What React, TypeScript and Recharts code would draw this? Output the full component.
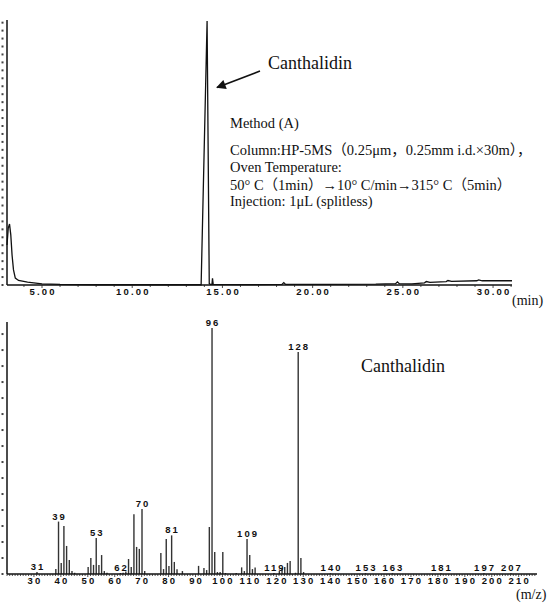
import React from 'react';
import { LineChart, Line, XAxis, YAxis, BarChart, Bar, LabelList } from 'recharts';

// total ion chromatogram (min, % of full scale)
const timeMin = [
  3.06, 3.13, 3.2, 3.27, 3.34, 3.42, 3.52, 3.7, 4.2, 5.0, 6.0, 8.0, 13.0, 13.82,
  14.15, 14.27, 14.34, 14.42, 14.45, 14.49, 16.0, 18.3, 18.4, 18.5, 21.0, 23.5,
  24.6, 24.7, 24.8, 25.5, 26.2, 26.3, 26.5, 27.4, 27.5, 27.7, 29.1, 29.2, 29.4, 31.05,
];
const signal = [
  15.1, 21.5, 23.0, 18.9, 11.3, 5.7, 2.6, 1.7, 1.1, 0.45, 0.2, 0.1, 0.1, 0.1,
  99.6, 0.5, 0.2, 0.2, 2.5, 0.2, 0.15, 0.2, 0.9, 0.2, 0.25, 0.3,
  0.5, 1.2, 0.5, 0.4, 0.8, 1.3, 1.0, 1.3, 1.7, 1.4, 1.6, 1.9, 1.6, 1.6,
];
const timeTickLabels = [5, 10, 15, 20, 25, 30];
const topYTicks = [0, 3, 6, 9, 12, 15, 18, 21, 24, 27, 30, 33, 36, 39, 42, 45, 48, 51, 54, 57, 60, 63, 66, 69, 72, 75, 78, 81, 84, 87, 90, 93, 96, 99];

// mass spectrum (m/z, relative abundance %)
const mzValues = [
  31, 38, 39, 40, 41, 42, 43, 44, 45, 50, 51, 52, 53, 54, 55, 56, 57, 62, 63, 64,
  65, 66, 67, 68, 69, 70, 71, 77, 78, 79, 80, 81, 82, 83, 85, 91, 93, 94, 95, 96,
  97, 98, 99, 100, 101, 105, 107, 108, 109, 110, 111, 112, 119, 121, 122, 123, 124,
  125, 127, 128, 129, 130, 140, 153, 163, 181, 197, 207,
];
const abundance = [
  0.8, 2.0, 21.3, 4.5, 19.5, 11.4, 5.7, 1.2, 0.5, 2.8, 6.5, 3.7, 14.6, 3.7, 7.7, 1.2, 0.5, 0.4, 0.5, 1.0,
  6.1, 2.8, 24.3, 11.0, 10.2, 26.4, 1.2, 8.5, 2.0, 14.2, 3.3, 15.7, 4.9, 1.9, 1.2, 3.3, 2.4, 1.6, 19.1, 100,
  8.9, 0.8, 0.8, 8.9, 0.4, 0.4, 2.7, 1.2, 14.2, 7.7, 2.0, 2.6, 0.4, 1.2, 2.4, 2.8, 4.5,
  5.3, 0.5, 90.2, 6.5, 0.8, 0.3, 0.3, 0.3, 0.3, 0.3, 0.3,
];
const labelledMz = [31, 39, 53, 62, 70, 81, 96, 109, 119, 128, 140, 153, 163, 181, 197, 207];
const mzTickLabels = [30, 40, 50, 60, 70, 80, 90, 100, 110, 120, 130, 140, 150, 160, 170, 180, 190, 200, 210];
const bottomYTicks = [0, 6.5, 13, 19.5, 26, 32.5, 39, 45.5, 52, 58.5, 65, 71.5, 78, 84.5, 91, 97.5];

const chromData = timeMin.map((t, i) => ({ t, v: signal[i] }));
const msData = mzValues.map((mz, i) => ({
  mz,
  v: abundance[i],
  label: labelledMz.includes(mz) ? String(mz) : undefined,
}));

const topMinor = Array.from({ length: 28 }, (_, i) => 4 + i);
const mzMinor = Array.from({ length: 197 }, (_, i) => 20 + i);

const sans = "'Liberation Sans', Arial, sans-serif";
const serif = "'Liberation Serif', 'Times New Roman', 'Noto Sans CJK JP', serif";

const dotTick = (props: any) => (
  <rect x={props.x - 5.5} y={props.y - 1} width={2} height={2} fill="#444" />
);

const makeXTick = (labels: number[], fmt: (v: number) => string, spacing: number) => (props: any) => {
  const { x, y, payload } = props;
  const major = labels.includes(payload.value);
  return (
    <g>
      <line x1={x} x2={x} y1={y} y2={y + (major ? 3 : 2)} stroke="#222" strokeWidth={0.8} />
      {major && (
        <text
          x={x + spacing / 2}
          y={y + 9.5}
          textAnchor="middle"
          fill="#111"
          fontFamily={sans}
          fontWeight="bold"
          fontSize={9.5}
          letterSpacing={spacing}
        >
          {fmt(payload.value)}
        </text>
      )}
    </g>
  );
};

const peakLabel = (props: any) => {
  const { x, y, width, value } = props;
  if (value === undefined || value === null) return null;
  return (
    <text
      x={x + width / 2 + 1}
      y={y - 2}
      textAnchor="middle"
      fill="#111"
      fontFamily={sans}
      fontWeight="bold"
      fontSize={9.5}
      letterSpacing={2}
    >
      {value}
    </text>
  );
};

export default function App() {
  return (
    <div style={{ position: 'absolute', left: 0, top: 0, width: 548, height: 615, background: '#fff' }}>
      <div style={{ position: 'absolute', left: 0, top: 0 }}>
        <LineChart width={548} height={310} data={chromData} margin={{ top: 20, right: 36, bottom: 0, left: 0 }}>
          <XAxis
            type="number"
            dataKey="t"
            domain={[3.06, 31.05]}
            ticks={topMinor}
            interval={0}
            height={25}
            tickSize={0}
            tickMargin={0}
            axisLine={{ stroke: '#111', strokeWidth: 1.5 }}
            tick={makeXTick(timeTickLabels, (v) => v.toFixed(2), 2.2)}
          />
          <YAxis
            type="number"
            domain={[0, 100]}
            ticks={topYTicks}
            interval={0}
            width={7}
            tickSize={0}
            tickMargin={0}
            axisLine={{ stroke: '#111', strokeWidth: 1.5 }}
            tick={dotTick}
          />
          <Line type="linear" dataKey="v" stroke="#111" strokeWidth={1.3} dot={false} isAnimationActive={false} />
        </LineChart>
      </div>
      <div style={{ position: 'absolute', left: 0, top: 310 }}>
        <BarChart width={548} height={305} data={msData} margin={{ top: 12, right: 11, bottom: 0, left: 0 }}>
          <XAxis
            type="number"
            dataKey="mz"
            domain={[20, 216.8]}
            ticks={mzMinor}
            interval={0}
            height={41}
            tickSize={0}
            tickMargin={0}
            axisLine={{ stroke: '#111', strokeWidth: 1.3 }}
            tick={makeXTick(mzTickLabels, (v) => String(v), 2.2)}
          />
          <YAxis
            type="number"
            domain={[0, 102.4]}
            ticks={bottomYTicks}
            interval={0}
            width={7}
            tickSize={0}
            tickMargin={0}
            axisLine={{ stroke: '#111', strokeWidth: 1.5 }}
            tick={dotTick}
          />
          <Bar dataKey="v" fill="#333" barSize={1.4} isAnimationActive={false}>
            <LabelList dataKey="label" content={peakLabel} />
          </Bar>
        </BarChart>
      </div>
      <svg width={548} height={615} style={{ position: 'absolute', left: 0, top: 0, pointerEvents: 'none' }}>
        <defs>
          <marker id="ah" viewBox="0 0 10 10" refX="9" refY="5" markerWidth="7" markerHeight="6" orient="auto">
            <path d="M0,0 L10,5 L0,10 z" fill="#111" />
          </marker>
        </defs>
        <text x={268} y={69} fontFamily={serif} fontSize={18} fill="#111">Canthalidin</text>
        <line x1={260} y1={71} x2={217} y2={87.5} stroke="#111" strokeWidth={1.6} markerEnd="url(#ah)" />
        <g fontFamily={serif} fontSize={14.5} fill="#111">
          <text x={230} y={128}>Method (A)</text>
          <text x={230} y={155}>Column:HP-5MS（0.25μm，0.25mm i.d.×30m），</text>
          <text x={230} y={172}>Oven Temperature:</text>
          <text x={230} y={190}>50°  C（1min）→10°  C/min→315°  C（5min）</text>
          <text x={230} y={206}>Injection: 1μL (splitless)</text>
        </g>
        <text x={512} y={305} fontFamily={serif} fontSize={14} fill="#111">(min)</text>
        <text x={361} y={372} fontFamily={serif} fontSize={18} fill="#111">Canthalidin</text>
        <text x={516} y={599} fontFamily={serif} fontSize={14} fill="#111">(m/z)</text>
      </svg>
    </div>
  );
}
